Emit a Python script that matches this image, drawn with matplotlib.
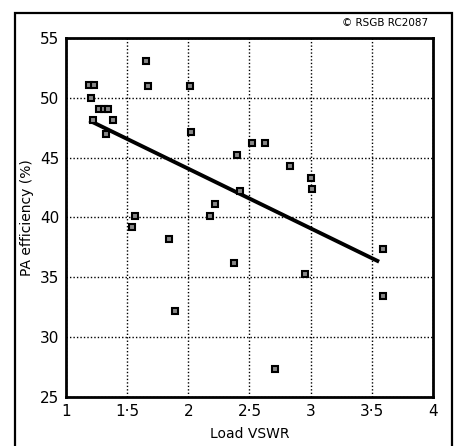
import matplotlib

matplotlib.use("Agg")
import matplotlib.pyplot as plt
from matplotlib.patches import Rectangle

# measured points (load VSWR, PA efficiency %)
vswr = [1.19, 1.23, 1.20, 1.27, 1.31, 1.34, 1.22, 1.38, 1.33, 1.65, 1.67,
        2.01, 2.02, 2.52, 2.63, 2.40, 2.83, 3.00, 3.01, 2.42, 2.22, 2.18,
        1.56, 1.54, 1.84, 3.59, 2.37, 2.95, 3.59, 1.89, 2.71]
efficiency = [51.1, 51.1, 50.0, 49.1, 49.1, 49.1, 48.1, 48.1, 47.0, 53.1, 51.0,
              51.0, 47.1, 46.2, 46.2, 45.2, 44.3, 43.3, 42.4, 42.2, 41.1, 40.1,
              40.1, 39.2, 38.2, 37.4, 36.2, 35.3, 33.4, 32.2, 27.3]

# regression line end points
fit_x = [1.19, 3.56]
fit_y = [48.1, 36.3]

x_ticks = [1, 1.5, 2, 2.5, 3, 3.5, 4]
x_tick_labels = ["1", "1·5", "2", "2·5", "3", "3·5", "4"]
y_ticks = [25, 30, 35, 40, 45, 50, 55]

fig = plt.figure(figsize=(4.62, 4.46), dpi=100)
ax = fig.add_axes([0.143, 0.110, 0.794, 0.805])

ax.plot(fit_x, fit_y, color="black", lw=2.8, solid_capstyle="butt", zorder=3)
ax.plot(vswr, efficiency, ls="none", marker="s", ms=5, mfc="#888888",
        mec="black", mew=1.5, zorder=4)

ax.set_xlim(1, 4)
ax.set_ylim(25, 55)
ax.set_xticks(x_ticks)
ax.set_xticklabels(x_tick_labels)
ax.set_yticks(y_ticks)
ax.tick_params(length=0, labelsize=11, pad=5)
ax.grid(True, color="black", ls=(0, (1, 1.5)), lw=1.0)
for spine in ax.spines.values():
    spine.set_linewidth(2)

ax.set_xlabel("Load VSWR", fontsize=10, labelpad=6)
ax.set_ylabel("PA efficiency (%)", fontsize=10, labelpad=4)

# outer frame and copyright note
fig.patches.append(Rectangle((0.032, -0.02), 0.946, 0.991, transform=fig.transFigure,
                             fill=False, lw=1.6, ec="black"))
fig.text(0.927, 0.948, "© RSGB RC2087", ha="right", va="center", fontsize=7.5)

fig.savefig("out.png", dpi=100)
plt.close(fig)
